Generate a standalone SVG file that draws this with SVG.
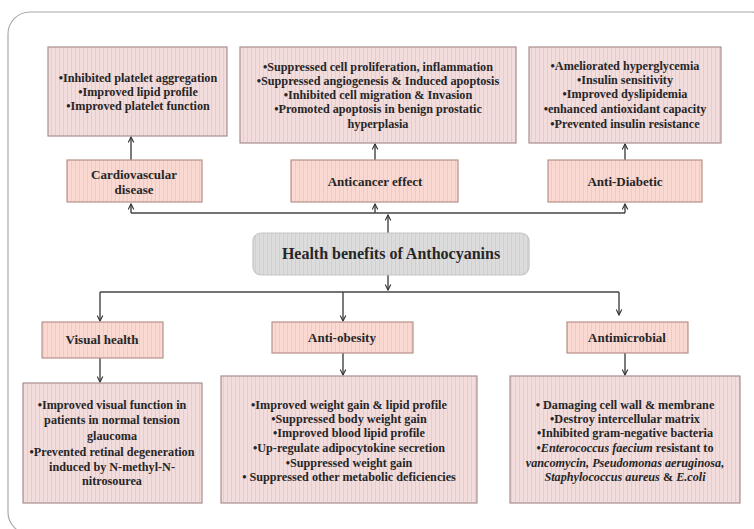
<svg xmlns="http://www.w3.org/2000/svg" width="754" height="529" viewBox="0 0 754 529">
<defs>
<pattern id="stripeP" width="4" height="10" patternUnits="userSpaceOnUse">
<rect width="4" height="10" fill="#f2dcdc"/>
<rect x="3" width="1" height="10" fill="#e8cccc"/>
</pattern>
<pattern id="stripeL" width="4" height="10" patternUnits="userSpaceOnUse">
<rect width="4" height="10" fill="#f9d9d1"/>
<rect x="3" width="1" height="10" fill="#efcac2"/>
</pattern>
<pattern id="stripeG" width="4" height="10" patternUnits="userSpaceOnUse">
<rect width="4" height="10" fill="#dcdcdc"/>
<rect x="3" width="1" height="10" fill="#d0d0d0"/>
</pattern>
<marker id="arr" viewBox="0 0 10 10" refX="9" refY="5" markerWidth="7" markerHeight="7" orient="auto" markerUnits="userSpaceOnUse">
<path d="M1,1 L9,5 L1,9" fill="none" stroke="#333" stroke-width="1.6"/>
</marker>
<style>
.det{fill:url(#stripeP);stroke:#a89090;stroke-width:1.2}
.lab{fill:url(#stripeL);stroke:#b89088;stroke-width:1.2}
.t{font-family:"Liberation Serif","Times New Roman",serif;font-size:12.2px;font-weight:bold;fill:#262626;text-anchor:middle}
.h{font-family:"Liberation Serif","Times New Roman",serif;font-size:13px;font-weight:bold;fill:#262626;text-anchor:middle}
.c{stroke:#444;stroke-width:1.4;fill:none}
</style>
</defs>
<rect x="0" y="0" width="754" height="529" fill="#ffffff"/>
<rect x="8" y="12" width="765" height="522" rx="22" fill="none" stroke="#aaaaaa" stroke-width="1.2"/>

<g id="connectors">
<path class="c" d="M388,233 L388,215" marker-end="url(#arr)"/>
<path class="c" d="M131,213 L625,213"/>
<path class="c" d="M131,213 L131,204" marker-end="url(#arr)"/>
<path class="c" d="M375,213 L375,204" marker-end="url(#arr)"/>
<path class="c" d="M625,213 L625,204" marker-end="url(#arr)"/>
<path class="c" d="M131,160 L131,137" marker-end="url(#arr)"/>
<path class="c" d="M375,160 L375,144" marker-end="url(#arr)"/>
<path class="c" d="M625,160 L625,144" marker-end="url(#arr)"/>
<path class="c" d="M388,275 L388,290" marker-end="url(#arr)"/>
<path class="c" d="M100,292 L619,292"/>
<path class="c" d="M100,292 L100,321" marker-end="url(#arr)"/>
<path class="c" d="M343,292 L343,321" marker-end="url(#arr)"/>
<path class="c" d="M619,292 L619,315" marker-end="url(#arr)"/>
<path class="c" d="M100,358 L100,382" marker-end="url(#arr)"/>
<path class="c" d="M343,353 L343,375" marker-end="url(#arr)"/>
<path class="c" d="M625,353 L625,375" marker-end="url(#arr)"/>
</g>

<g id="center">
<rect x="253" y="233" width="276" height="42" rx="8" fill="url(#stripeG)" stroke="#c4c4c4" stroke-width="1.2"/>
<text x="391" y="259" class="t" style="font-size:16px">Health benefits of  Anthocyanins</text>
</g>

<g id="cardio">
<rect class="lab" x="67" y="160" width="135" height="42"/>
<text class="h" x="134" y="179">Cardiovascular</text>
<text class="h" x="134" y="194">disease</text>
</g>
<g id="anticancer">
<rect class="lab" x="291" y="160" width="167" height="42"/>
<text class="h" x="375" y="186">Anticancer effect</text>
</g>
<g id="antidiabetic">
<rect class="lab" x="548" y="160" width="154" height="42"/>
<text class="h" x="625" y="186">Anti-Diabetic</text>
</g>

<g id="cardio-details">
<rect class="det" x="48" y="47" width="179" height="89"/>
<text class="t" x="138" y="82">•Inhibited platelet aggregation</text>
<text class="t" x="138" y="96">•Improved lipid profile</text>
<text class="t" x="138" y="110">•Improved platelet function</text>
</g>
<g id="anticancer-details">
<rect class="det" x="240" y="47" width="276" height="96"/>
<text class="t" x="378" y="71">•Suppressed cell proliferation, inflammation</text>
<text class="t" x="378" y="85">•Suppressed  angiogenesis &amp; Induced apoptosis</text>
<text class="t" x="378" y="99">•Inhibited cell migration &amp; Invasion</text>
<text class="t" x="378" y="113">•Promoted apoptosis in benign prostatic</text>
<text class="t" x="378" y="128">hyperplasia</text>
</g>
<g id="antidiabetic-details">
<rect class="det" x="529" y="47" width="192" height="96"/>
<text class="t" x="625" y="70">•Ameliorated hyperglycemia</text>
<text class="t" x="625" y="84">•Insulin sensitivity</text>
<text class="t" x="625" y="98">•Improved dyslipidemia</text>
<text class="t" x="625" y="113">•enhanced antioxidant capacity</text>
<text class="t" x="625" y="128">•Prevented insulin resistance</text>
</g>

<g id="visual">
<rect class="lab" x="42" y="322" width="121" height="36"/>
<text class="h" x="102" y="344">Visual health</text>
</g>
<g id="antiobesity">
<rect class="lab" x="272" y="322" width="141" height="31"/>
<text class="h" x="342" y="342">Anti-obesity</text>
</g>
<g id="antimicrobial">
<rect class="lab" x="567" y="322" width="121" height="31"/>
<text class="h" x="627" y="342">Antimicrobial</text>
</g>

<g id="visual-details">
<rect class="det" x="23" y="383" width="179" height="120"/>
<text class="t" x="112" y="409">•Improved visual function in</text>
<text class="t" x="112" y="424">patients in normal tension</text>
<text class="t" x="112" y="440">glaucoma</text>
<text class="t" x="112" y="456">•Prevented retinal degeneration</text>
<text class="t" x="112" y="471">induced by N-methyl-N-</text>
<text class="t" x="112" y="485">nitrosourea</text>
</g>
<g id="antiobesity-details">
<rect class="det" x="221" y="376" width="256" height="127"/>
<text class="t" x="349" y="409">•Improved weight gain &amp; lipid profile</text>
<text class="t" x="349" y="423">•Suppressed body weight gain</text>
<text class="t" x="349" y="437">•Improved blood lipid profile</text>
<text class="t" x="349" y="452">•Up-regulate adipocytokine secretion</text>
<text class="t" x="349" y="467">•Suppressed weight gain</text>
<text class="t" x="349" y="481">• Suppressed other metabolic deficiencies</text>
</g>
<g id="antimicrobial-details">
<rect class="det" x="510" y="376" width="230" height="127"/>
<text class="t" x="625" y="409">• Damaging cell wall &amp; membrane</text>
<text class="t" x="625" y="423">•Destroy intercellular matrix</text>
<text class="t" x="625" y="437">•Inhibited gram-negative bacteria</text>
<text class="t" x="625" y="452">•<tspan font-style="italic">Enterococcus faecium</tspan> resistant to</text>
<text class="t" x="625" y="467" font-style="italic">vancomycin, Pseudomonas aeruginosa,</text>
<text class="t" x="625" y="481"><tspan font-style="italic">Staphylococcus aureus</tspan> &amp; <tspan font-style="italic">E.coli</tspan></text>
</g>
</svg>
